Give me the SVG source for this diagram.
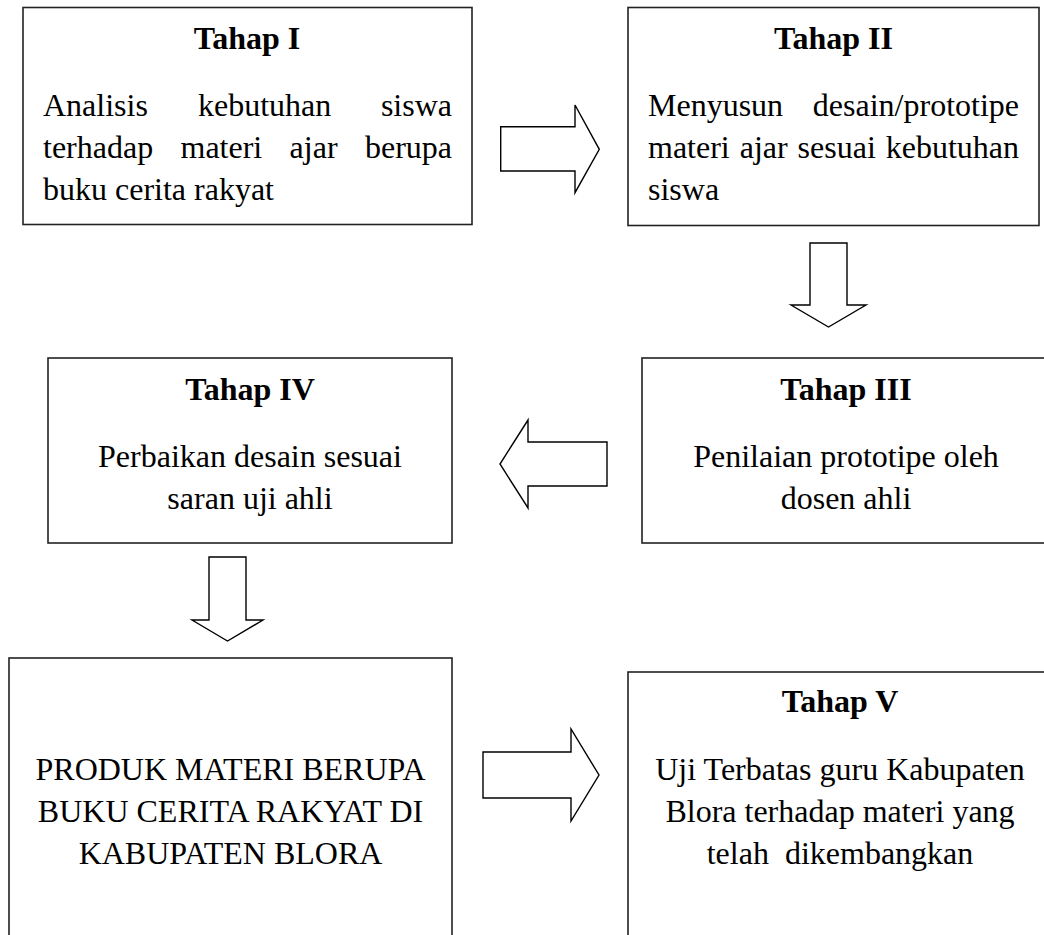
<svg xmlns="http://www.w3.org/2000/svg" width="1044" height="935" viewBox="0 0 1044 935">
<style>
.box{fill:#fff;stroke:#222;stroke-width:1.6}
.arr{fill:#fff;stroke:#000;stroke-width:1.4;stroke-linejoin:miter}
text{font-family:"Liberation Serif","Times New Roman",serif;font-size:32px;fill:#000}
.t{font-weight:bold;text-anchor:middle}
.c{text-anchor:middle}
.e{text-anchor:end}
</style>
<rect width="1044" height="935" fill="#fff"/>
<g id="connectors">
<polygon class="arr" points="500.7,126.7 575,126.7 575,105 599.3,149.3 575,192.7 575,171 500.7,171"/>
<polygon class="arr" points="810,243 847,243 847,305 866,305 828.5,327 791,305 810,305"/>
<polygon class="arr" points="607,442 528,442 528,420 500,464 528,508 528,486 607,486"/>
<polygon class="arr" points="209,557 246,557 246,620 263,620 227.5,641 192,620 209,620"/>
<polygon class="arr" points="483,752 571,752 571,729 599,775 571,821 571,798 483,798"/>
</g>
<g id="tahap1">
<rect class="box" x="23" y="7.5" width="449" height="217"/>
<text class="t" x="247" y="49">Tahap I</text>
<text x="43" y="116">Analisis</text><text x="198" y="116">kebutuhan</text><text class="e" x="452" y="116">siswa</text>
<text x="43" y="158">terhadap</text><text x="180.5" y="158">materi</text><text x="289.6" y="158">ajar</text><text class="e" x="452" y="158">berupa</text>
<text x="43" y="200">buku cerita rakyat</text>
</g>
<g id="tahap2">
<rect class="box" x="628" y="7.5" width="411" height="218"/>
<text class="t" x="833.5" y="49">Tahap II</text>
<text x="648" y="116">Menyusun</text><text class="e" x="1019" y="116">desain/prototipe</text>
<text x="648" y="158">materi</text><text x="739.7" y="158">ajar</text><text x="797.6" y="158">sesuai</text><text class="e" x="1019" y="158">kebutuhan</text>
<text x="648" y="200">siswa</text>
</g>
<g id="tahap3">
<rect class="box" x="642" y="358" width="420" height="185"/>
<text class="t" x="846" y="400">Tahap III</text>
<text class="c" x="846" y="467">Penilaian prototipe oleh</text>
<text class="c" x="846" y="509">dosen ahli</text>
</g>
<g id="tahap4">
<rect class="box" x="48" y="358" width="404" height="185"/>
<text class="t" x="250" y="400">Tahap IV</text>
<text class="c" x="250" y="467">Perbaikan desain sesuai</text>
<text class="c" x="250" y="509">saran uji ahli</text>
</g>
<g id="produk">
<rect class="box" x="9" y="658" width="443" height="300"/>
<text class="c" x="230.5" y="780">PRODUK MATERI BERUPA</text>
<text class="c" x="230.5" y="822">BUKU CERITA RAKYAT DI</text>
<text class="c" x="230.5" y="864">KABUPATEN BLORA</text>
</g>
<g id="tahap5">
<rect class="box" x="628" y="672" width="430" height="300"/>
<text class="t" x="840" y="712">Tahap V</text>
<text class="c" x="840" y="780">Uji Terbatas guru Kabupaten</text>
<text class="c" x="840" y="822">Blora terhadap materi yang</text>
<text class="c" x="840" y="864" xml:space="preserve">telah  dikembangkan</text>
</g>
</svg>
